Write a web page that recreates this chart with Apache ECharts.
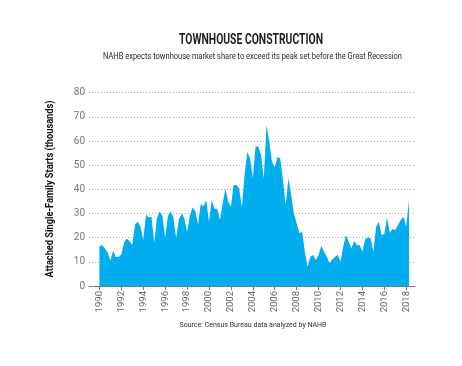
<!DOCTYPE html>
<html>
<head>
<meta charset="utf-8">
<script src="https://cdn.jsdelivr.net/npm/echarts@6/dist/echarts.min.js"></script>
<style>
html,body{margin:0;padding:0;background:#fff;}
#chart{width:462px;height:366px;}
</style>
</head>
<body>
<div id="chart"></div>
<script>
// Quarterly attached single-family starts (thousands), 1990Q1 .. 2018Q2
const startYear = 1990;
const starts = [
  16.3, 17, 15.5, 14, 10.5, 14.6, 12, 12,
  13, 18, 19.7, 18.5, 17, 25.5, 26.6, 24.5,
  19, 29.5, 28.5, 28.7, 18, 28, 30.8, 29,
  20, 29, 30.8, 28.5, 20, 27.5, 30, 28,
  22.5, 29, 32.5, 31, 25.5, 34, 33, 35.5,
  26.5, 35.6, 32, 32, 27.3, 34.2, 40.4, 35,
  32.8, 41.8, 41.8, 40.4, 32.6, 46, 55.6, 52.8,
  44.6, 57.7, 57.7, 54.2, 44.6, 66.6, 59.7, 51.4,
  49.1, 53.5, 52.8, 43.9, 33.5, 44.6, 37.7, 30,
  26, 21.8, 22.5, 14.2, 8, 12.1, 12.8, 10.8,
  12.8, 16.7, 14.2, 12.1, 9.4, 11, 12.1, 12.8,
  10, 16.3, 21.1, 18.3, 15.6, 18.6, 17, 17,
  14.2, 19.3, 20.1, 19.7, 14.2, 24.5, 26.6, 21.1,
  21.5, 28.4, 22, 23.6, 23.2, 25.2, 27.3, 28.7,
  24.5, 35.5
];
const yearTicks = [1990,1992,1994,1996,1998,2000,2002,2004,2006,2008,2010,2012,2014,2016,2018];
const yTicks = [0,10,20,30,40,50,60,70,80];

const titleText = 'TOWNHOUSE CONSTRUCTION';
const subtitleText = 'NAHB expects townhouse market share to exceed its peak set before the Great Recession';
const yName = 'Attached Single-Family Starts (thousands)';
const sourceText = 'Source: Census Bureau data analyzed by NAHB';

const seriesData = starts.map((v, i) => [startYear + i / 4, v]);
const FONT = "Roboto, 'Noto Sans', sans-serif";

// horizontal condensing factor so text spans the same width as in the reference
const ctx = document.createElement('canvas').getContext('2d');
function squeeze(text, weight, size, targetWidth) {
  ctx.font = weight + ' ' + size + 'px Roboto';
  const w = ctx.measureText(text).width;
  return Math.min(1, targetWidth / w);
}

function label(text, x, y, size, weight, color, targetWidth, rotation) {
  return {
    type: 'text', x: x, y: y, rotation: rotation || 0,
    scaleX: squeeze(text, weight, size, targetWidth),
    style: {text: text, fontFamily: FONT, fontSize: size, fontWeight: weight,
      fill: color, align: 'center', verticalAlign: 'middle'},
    silent: true
  };
}

const chart = echarts.init(document.getElementById('chart'), null, {renderer: 'canvas'});
chart.setOption({
  animation: false,
  backgroundColor: '#ffffff',
  graphic: [
    label(titleText, 251, 40.5, 14, 'bold', '#1e1e1e', 144),
    label(subtitleText, 252.5, 57, 9, 'normal', '#2a2a2a', 299),
    label(yName, 50, 189, 10, 'bold', '#111111', 177, Math.PI / 2),
    label(sourceText, 253, 325, 7.5, 'normal', '#333333', 147)
  ],
  grid: {left: 89, right: 47, top: 92.7, bottom: 80, containLabel: false, outerBoundsMode: 'none'},
  xAxis: {
    type: 'value', min: 1989.05, max: 2018.8,
    splitLine: {show: false},
    axisLine: {show: true, lineStyle: {color: '#777', width: 1}},
    axisTick: {show: true, customValues: yearTicks, length: 4, lineStyle: {color: '#777'}},
    axisLabel: {customValues: yearTicks, rotate: 90, margin: 5, color: '#666',
      fontFamily: FONT, fontSize: 9.5, formatter: v => String(Math.round(v))}
  },
  yAxis: {
    type: 'value', min: 0, max: 80, interval: 10,
    axisLine: {show: false}, axisTick: {show: false},
    axisLabel: {color: '#777', fontFamily: FONT, fontSize: 10, margin: 4,
      formatter: v => yTicks.includes(v) ? String(v) : ''},
    splitLine: {show: true, lineStyle: {color: '#aaa', type: [1, 2], width: 1}}
  },
  series: [{
    type: 'line', data: seriesData, showSymbol: false, smooth: false,
    lineStyle: {width: 0}, areaStyle: {color: '#00AEEF', opacity: 1},
    z: 1
  }]
});
</script>
</body>
</html>
